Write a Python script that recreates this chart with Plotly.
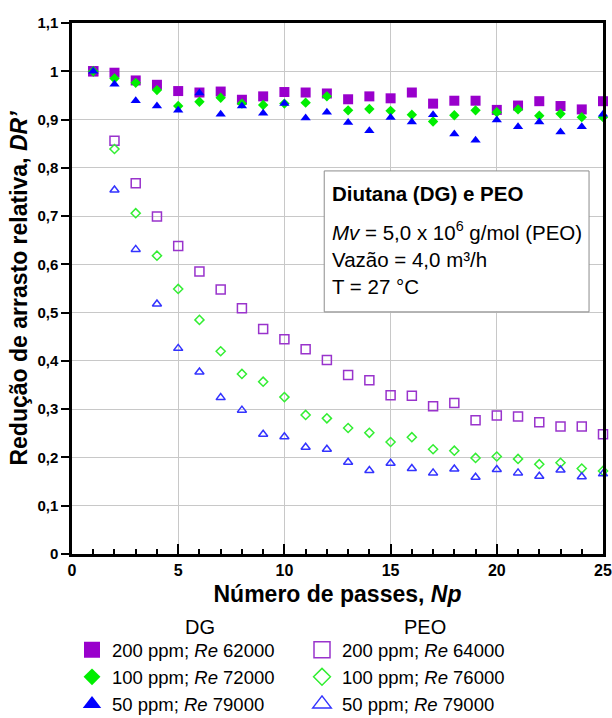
import plotly.graph_objects as go

# ---------------- data ----------------
Np = list(range(1, 26))

dg200 = [1.0, 0.997, 0.981, 0.972, 0.959, 0.956, 0.958, 0.941, 0.948, 0.957, 0.956, 0.954, 0.942,
         0.948, 0.944, 0.956, 0.933, 0.939, 0.939, 0.920, 0.929, 0.938, 0.928, 0.921, 0.938]
dg100 = [1.0, 0.985, 0.976, 0.961, 0.928, 0.937, 0.945, 0.933, 0.930, 0.933, 0.935, 0.948, 0.919,
         0.922, 0.918, 0.910, 0.896, 0.909, 0.919, 0.915, 0.921, 0.908, 0.912, 0.905, 0.905]
dg50 = [1.0, 0.973, 0.939, 0.928, 0.919, 0.955, 0.911, 0.928, 0.913, 0.933, 0.903, 0.915, 0.894,
        0.877, 0.904, 0.895, 0.910, 0.870, 0.857, 0.899, 0.885, 0.895, 0.874, 0.885, 0.911]
peo200 = [1.0, 0.856, 0.768, 0.699, 0.638, 0.585, 0.548, 0.509, 0.466, 0.445, 0.424, 0.402, 0.371,
          0.360, 0.329, 0.328, 0.306, 0.313, 0.277, 0.287, 0.285, 0.273, 0.264, 0.264, 0.248]
peo100 = [1.0, 0.839, 0.706, 0.618, 0.549, 0.485, 0.420, 0.373, 0.357, 0.325, 0.288, 0.281, 0.261,
          0.251, 0.232, 0.242, 0.217, 0.214, 0.199, 0.202, 0.197, 0.186, 0.189, 0.177, 0.172]
peo50 = [1.0, 0.754, 0.631, 0.518, 0.426, 0.377, 0.324, 0.298, 0.248, 0.243, 0.221, 0.217, 0.190,
         0.173, 0.188, 0.177, 0.168, 0.176, 0.159, 0.175, 0.168, 0.161, 0.174, 0.160, 0.166]

dg_names = ["200 ppm; <i>Re</i> 62000", "100 ppm; <i>Re</i> 72000", "50 ppm; <i>Re</i> 79000"]
peo_names = ["200 ppm; <i>Re</i> 64000", "100 ppm; <i>Re</i> 76000", "50 ppm; <i>Re</i> 79000"]

y_ticks = [0, 0.1, 0.2, 0.3, 0.4, 0.5, 0.6, 0.7, 0.8, 0.9, 1.0, 1.1]
y_ticktext = ["0", "0,1", "0,2", "0,3", "0,4", "0,5", "0,6", "0,7", "0,8", "0,9", "1", "1,1"]
x_ticks = [0, 5, 10, 15, 20, 25]

box_lines = ["<b>Diutana (DG) e PEO</b>",
             "<i>Mv</i> = 5,0 x 10<sup>6</sup> g/mol (PEO)",
             "Vazão = 4,0 m³/h",
             "T = 27 °C"]

FONT = "Liberation Sans, Arial, sans-serif"

fig = go.Figure()

# (values, name, symbol, colour, plot size, legend size, legend rank, filled)
specs = [
    (peo200, peo_names[0], "square-open", "#9933CC", 9, 16, 2, False),
    (peo100, peo_names[1], "diamond-open", "#33EE33", 7, 13, 4, False),
    (peo50, peo_names[2], "triangle-up-open", "#3333FF", 8, 16, 6, False),
    (dg200, dg_names[0], "square", "#9900CC", 10, 16, 1, True),
    (dg100, dg_names[1], "diamond", "#00EE00", 8, 13, 3, True),
    (dg50, dg_names[2], "triangle-up", "#0000FF", 9, 16, 5, True),
]
for ys, name, sym, col, size, lsize, rank, filled in specs:
    mk = dict(symbol=sym, color=col, size=size,
              line=dict(color=col, width=0 if filled else 1.5))
    fig.add_trace(go.Scatter(x=Np, y=ys, mode="markers", name=name, showlegend=False,
                             cliponaxis=False, marker=mk))
    # legend entry (larger symbol, no data)
    lmk = dict(mk)
    lmk["size"] = lsize
    fig.add_trace(go.Scatter(x=[None], y=[None], mode="markers", name=name, legendrank=rank,
                             marker=lmk, hoverinfo="skip"))

fig.update_layout(
    width=612, height=718,
    margin=dict(l=72, r=9, t=23, b=164, autoexpand=False),
    paper_bgcolor="white", plot_bgcolor="white",
    font=dict(family=FONT, color="black"),
    showlegend=True,
    legend=dict(orientation="h", x=0.0, xanchor="left", y=-0.1455, yanchor="top",
                entrywidth=185, entrywidthmode="pixels", traceorder="normal",
                font=dict(size=18.5, family=FONT), itemsizing="trace",
                bgcolor="rgba(0,0,0,0)", tracegroupgap=0),
    xaxis=dict(range=[0, 25], tickvals=x_ticks, ticks="inside", ticklen=10, tickwidth=1.5,
               tickcolor="black", showline=True, linecolor="black", linewidth=2.5, mirror=True,
               showgrid=True, gridcolor="#C8C8C8", gridwidth=1.2, zeroline=False,
               tickfont=dict(size=16, family=FONT, weight="bold"),
               minor=dict(dtick=1, ticks="inside", ticklen=5, tickcolor="black", tickwidth=1.5,
                          showgrid=False),
               title=dict(text="Número de passes, <i>Np</i>", standoff=8,
                          font=dict(size=23, family=FONT, weight="bold"))),
    yaxis=dict(range=[0, 1.1], tickvals=y_ticks, ticktext=y_ticktext, ticks="outside",
               ticklen=8, tickwidth=1.5, tickcolor="black",
               showline=True, linecolor="black", linewidth=2.5, mirror=True,
               showgrid=True, gridcolor="#C8C8C8", gridwidth=1.2, zeroline=False,
               tickfont=dict(size=15, family=FONT, weight="bold"),
               title=dict(text="Redução de arrasto relativa, <i>DR’</i>", standoff=4,
                          font=dict(size=23, family=FONT, weight="bold"))),
    yaxis2=dict(range=[0, 1.1], overlaying="y", anchor="x", side="right",
                tickvals=y_ticks, showticklabels=False, ticks="inside", ticklen=7,
                tickwidth=1.5, tickcolor="black", mirror="ticks", showline=False,
                showgrid=False, zeroline=False,
                minor=dict(dtick=0.02, ticks="inside", ticklen=5, tickcolor="black",
                           tickwidth=1.5, showgrid=False)),
)

# info box
fig.add_shape(type="rect", xref="paper", yref="paper", x0=0.475, x1=0.9737, y0=0.456, y1=0.7214,
              line=dict(color="#8C8C8C", width=1), fillcolor="white", layer="above")
box_y = [0.679, 0.6085, 0.5552, 0.5031]
for txt, yy in zip(box_lines, box_y):
    fig.add_annotation(text=txt, xref="paper", yref="paper", x=0.4866, y=yy,
                       xanchor="left", yanchor="middle", showarrow=False,
                       font=dict(size=20.5, family=FONT, color="black"))

# legend column headers
fig.add_annotation(text="DG", xref="paper", yref="paper", x=0.241, y=-0.1374,
                   xanchor="center", yanchor="middle", showarrow=False,
                   font=dict(size=20, family=FONT))
fig.add_annotation(text="PEO", xref="paper", yref="paper", x=0.665, y=-0.1374,
                   xanchor="center", yanchor="middle", showarrow=False,
                   font=dict(size=20, family=FONT))

fig.write_html("out.html")
